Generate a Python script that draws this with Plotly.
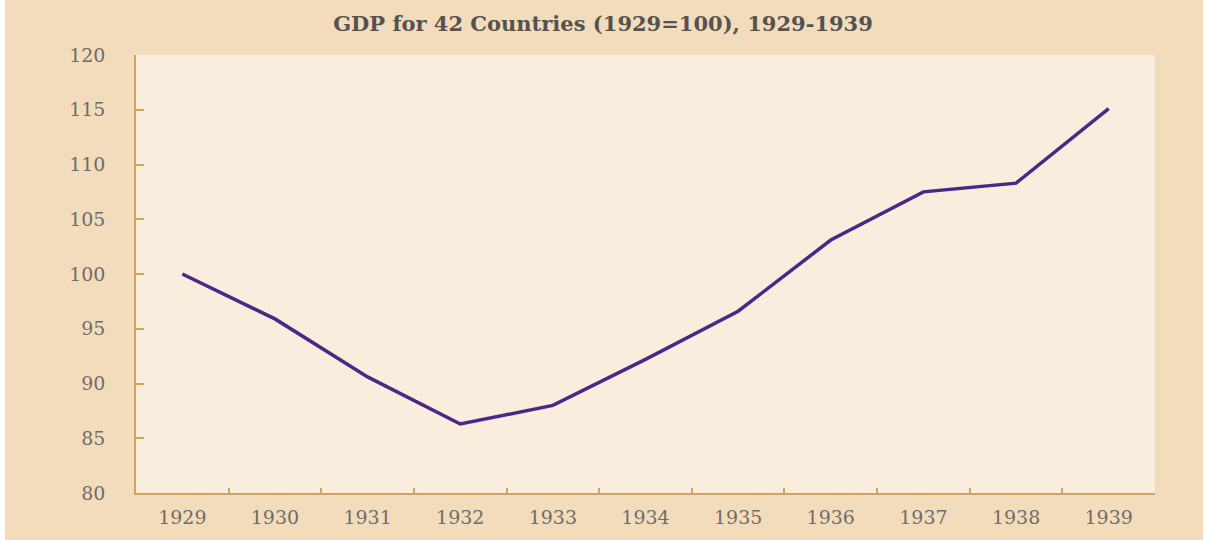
import plotly.graph_objects as go

years = ["1929", "1930", "1931", "1932", "1933", "1934", "1935", "1936", "1937", "1938", "1939"]
gdp_index = [100.0, 95.9, 90.6, 86.3, 88.0, 92.2, 96.6, 103.1, 107.5, 108.3, 115.1]
y_ticks = [80, 85, 90, 95, 100, 105, 110, 115, 120]

W, H = 1208, 540
L, R, T, B = 136, 53, 55, 40
pw = W - L - R

outer_bg = "#F3DCBC"
plot_bg = "#F9EDDE"
axis_col = "#D4A15E"
text_col = "#6F6C69"
font_family = "DejaVu Serif, Liberation Serif, serif"

fig = go.Figure()
fig.add_trace(go.Scatter(
    x=years, y=gdp_index, mode="lines",
    line=dict(color="#4A2887", width=3.5),
    hoverinfo="x+y", showlegend=False,
))

def px_to_paper(px):
    return (px - L) / pw

fig.update_layout(
    width=W, height=H,
    margin=dict(l=L, r=R, t=T, b=B),
    paper_bgcolor=outer_bg,
    plot_bgcolor=plot_bg,
    title=dict(
        text="<b>GDP for 42 Countries (1929=100), 1929-1939</b>",
        x=px_to_paper(603), xref="paper", xanchor="center",
        y=1 - 24 / H, yanchor="middle", yref="container",
        font=dict(family=font_family, size=21, color="#55524F"),
    ),
    shapes=[
        dict(type="rect", xref="paper", yref="paper", layer="below",
             x0=px_to_paper(-5), x1=px_to_paper(5), y0=-0.2, y1=1.2,
             fillcolor="white", line=dict(width=0)),
        dict(type="rect", xref="paper", yref="paper", layer="below",
             x0=px_to_paper(1203), x1=px_to_paper(1215), y0=-0.2, y1=1.2,
             fillcolor="white", line=dict(width=0)),
    ],
    xaxis=dict(
        type="category", range=[-0.5, 10.5],
        showline=True, linecolor=axis_col, linewidth=1.5,
        ticks="inside", tickson="boundaries", ticklen=5, tickcolor=axis_col, tickwidth=1.5,
        showgrid=False, zeroline=False,
        tickfont=dict(family=font_family, size=19, color=text_col),
        ticklabelstandoff=6,
    ),
    yaxis=dict(
        range=[80, 120], tickvals=y_ticks,
        showline=True, linecolor=axis_col, linewidth=1.5,
        ticks="inside", ticklen=8, tickcolor=axis_col, tickwidth=1.5,
        showgrid=False, zeroline=False,
        tickfont=dict(family=font_family, size=19, color=text_col),
        ticklabelstandoff=25,
    ),
)

fig.write_html(
    "out.html",
    config={"displayModeBar": False},
    post_script="document.body.style.margin='0';document.body.style.overflow='hidden';",
)
